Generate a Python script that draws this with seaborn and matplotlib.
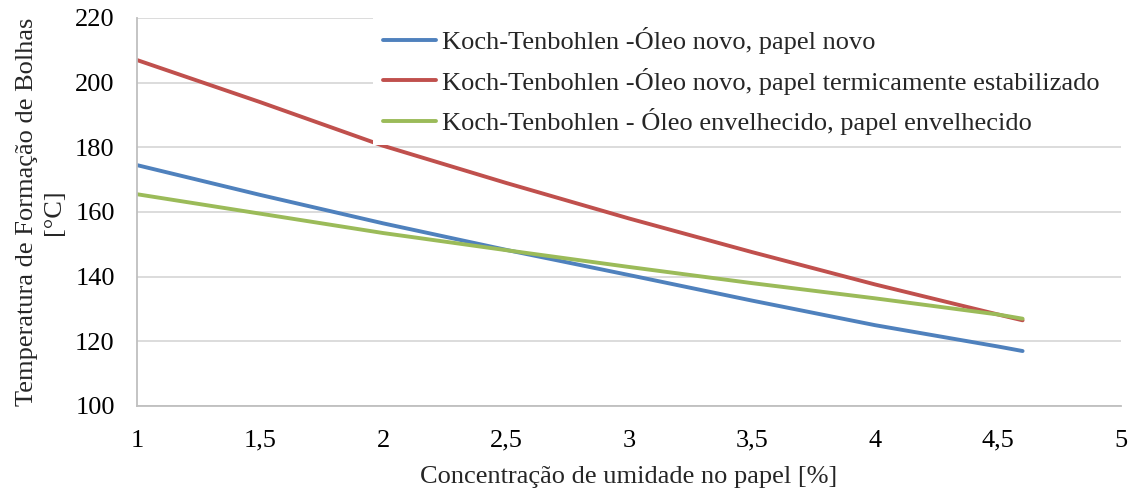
import matplotlib
matplotlib.use("Agg")
import matplotlib.pyplot as plt
import seaborn as sns
import pandas as pd

# Data
umidade = [1.0, 1.5, 2.0, 2.5, 3.0, 3.5, 4.0, 4.5, 4.6]
novo_novo = [174.5, 165.3, 156.5, 148.3, 140.5, 132.6, 125.0, 118.4, 117.0]
novo_estab = [207.0, 194.0, 180.5, 169.0, 158.0, 147.6, 137.6, 128.3, 126.5]
envelhecido = [165.5, 159.5, 153.5, 148.2, 143.0, 138.0, 133.3, 128.3, 127.0]

series_names = [
    "Koch-Tenbohlen -Óleo novo, papel novo",
    "Koch-Tenbohlen -Óleo novo, papel termicamente estabilizado",
    "Koch-Tenbohlen - Óleo envelhecido, papel envelhecido",
]
series_colors = ["#4f81bd", "#c0504d", "#9bbb59"]

x_ticks = [1, 1.5, 2, 2.5, 3, 3.5, 4, 4.5, 5]
x_ticklabels = ["1", "1,5", "2", "2,5", "3", "3,5", "4", "4,5", "5"]
y_ticks = [100, 120, 140, 160, 180, 200, 220]

x_label = "Concentração de umidade no papel [%]"
y_label = "Temperatura de Formação de Bolhas\n[°C]"

frames = []
for name, vals in zip(series_names, [novo_novo, novo_estab, envelhecido]):
    frames.append(pd.DataFrame({"x": umidade, "y": vals, "serie": name}))
df = pd.concat(frames, ignore_index=True)

sns.set_style("white")
plt.rcParams["font.family"] = ["Liberation Serif", "DejaVu Serif"]

FS = 19

fig = plt.figure(figsize=(11.34, 4.93), dpi=100)
ax = fig.add_axes([137 / 1134, 1 - 406 / 493, 984 / 1134, 388 / 493])

sns.lineplot(data=df, x="x", y="y", hue="serie", hue_order=series_names,
             palette=series_colors, linewidth=2.8, ax=ax, sort=False)

ax.set_xlim(1, 5)
ax.set_ylim(100, 220)
ax.set_xticks(x_ticks)
ax.set_xticklabels(x_ticklabels)
ax.set_yticks(y_ticks)
ax.tick_params(axis="both", length=0, labelsize=FS, colors="#000000")
ax.tick_params(axis="x", pad=17)
ax.tick_params(axis="y", pad=16)

ax.grid(axis="y", color="#d9d9d9", linewidth=1.3)
ax.grid(axis="x", visible=False)
ax.set_axisbelow(True)
for s in ["top", "right"]:
    ax.spines[s].set_visible(False)
for s in ["left", "bottom"]:
    ax.spines[s].set_color("#bfbfbf")
    ax.spines[s].set_linewidth(1.3)

ax.set_xlabel(x_label, fontsize=FS, labelpad=10)
ax.set_ylabel(y_label, fontsize=FS, labelpad=7, linespacing=1.3)

x0 = (373 - 137) / 984
y_top = (406 - 17.5) / 388
leg = ax.legend(loc="upper left", bbox_to_anchor=(x0, y_top - 0.5, 1.05 - x0, 0.5),
                mode="expand", borderaxespad=0, frameon=True, fancybox=False, fontsize=FS,
                handlelength=2.0, handletextpad=0.25, labelspacing=0.51,
                borderpad=0.37, title=None)
leg.get_frame().set_facecolor("white")
leg.get_frame().set_edgecolor("none")
leg.get_frame().set_alpha(1)

fig.savefig("out.png", dpi=100)
